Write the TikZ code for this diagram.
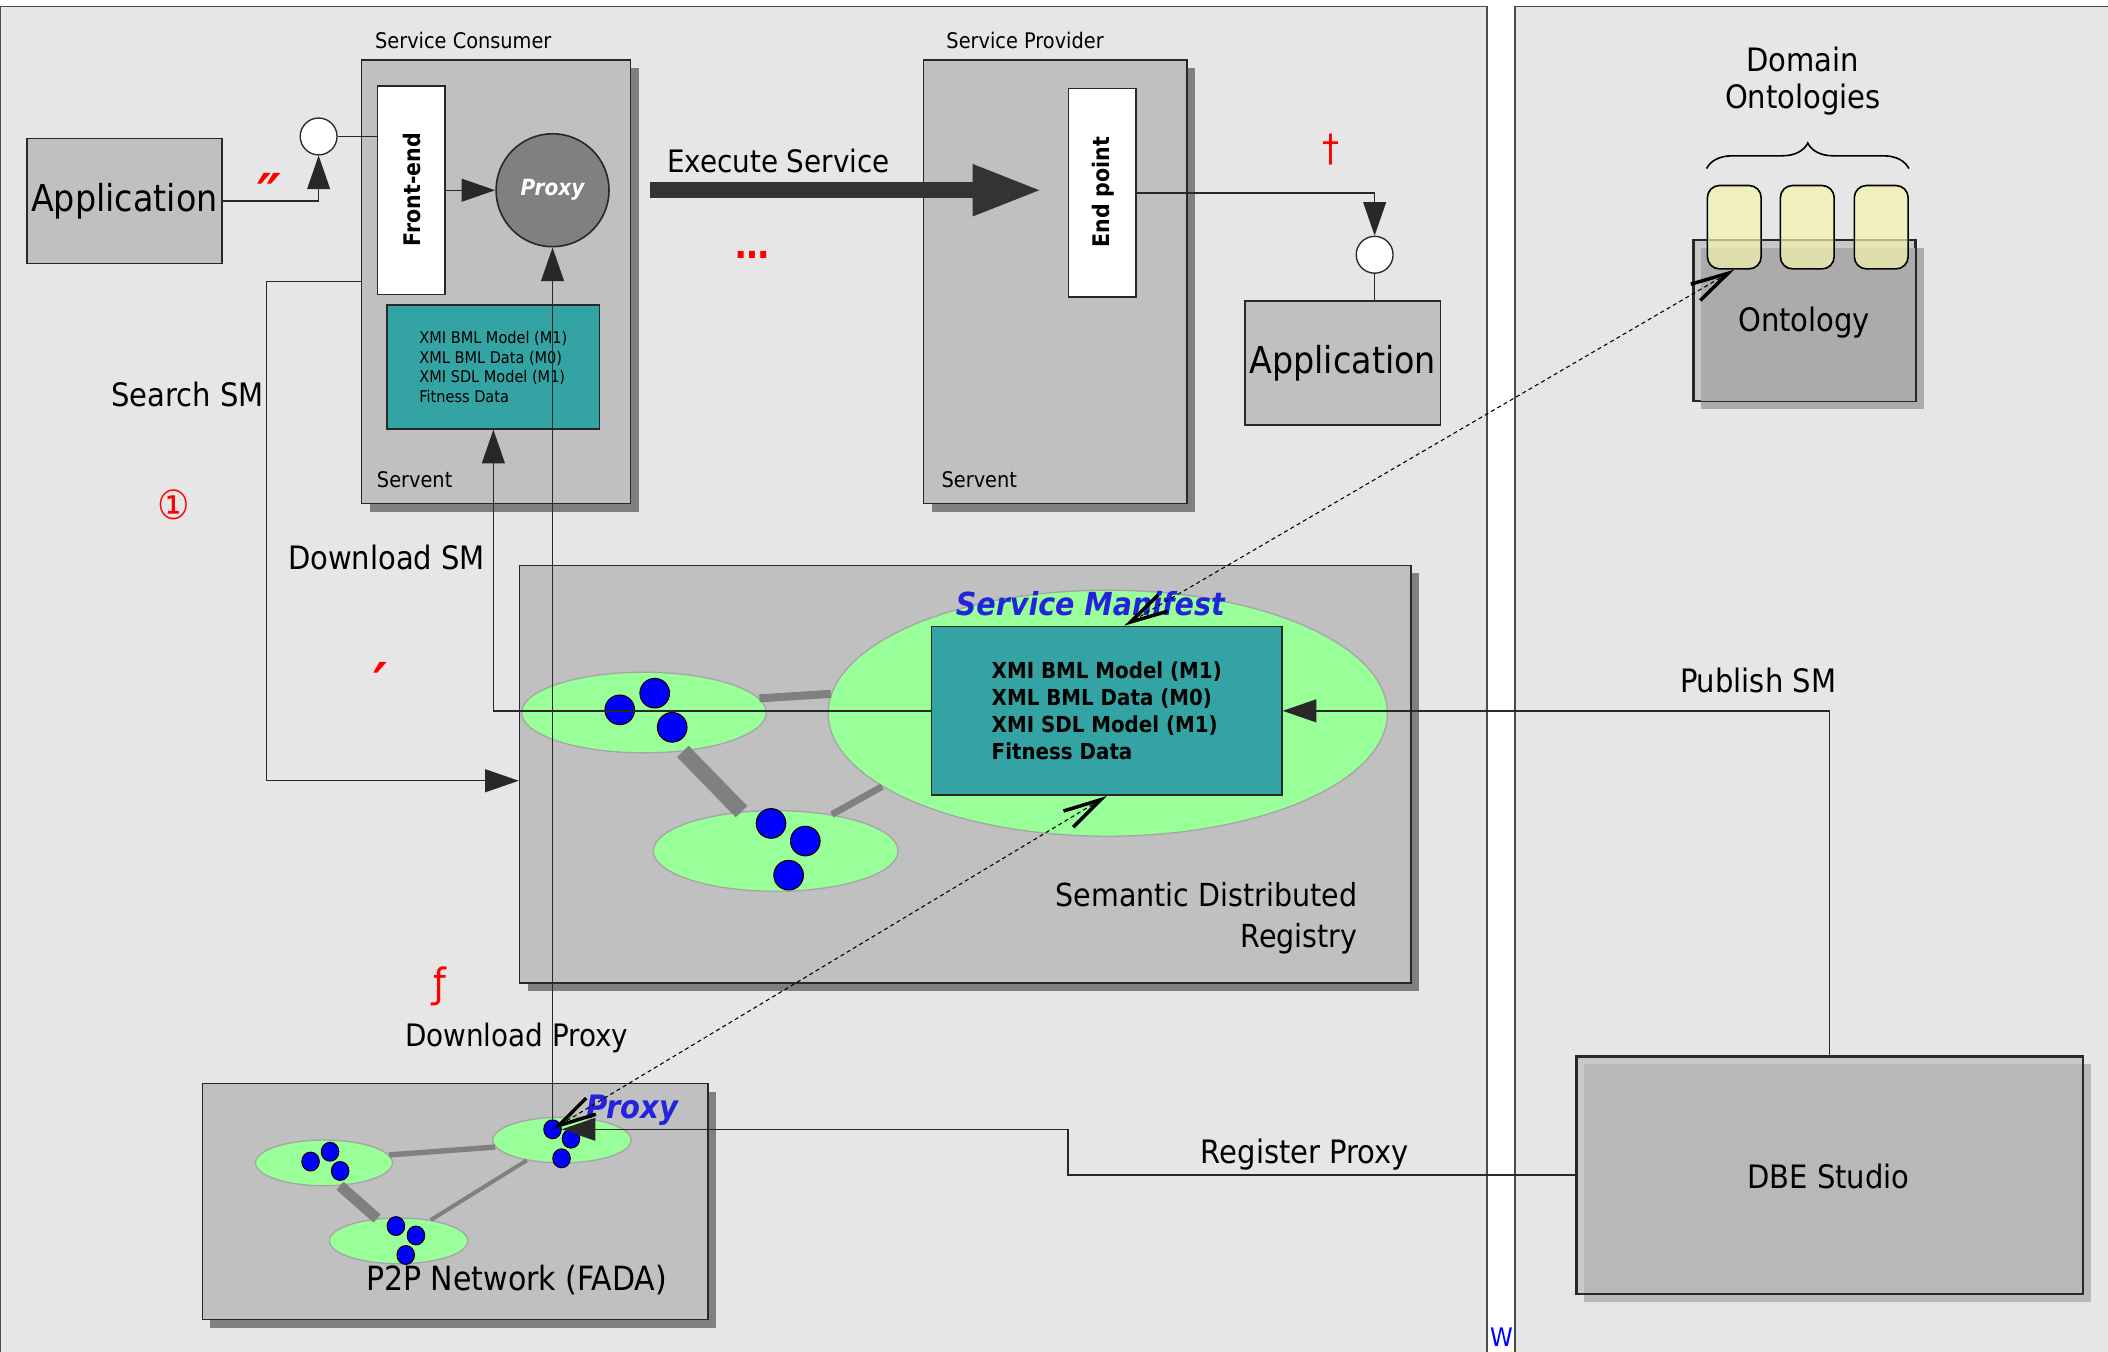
\documentclass[tikz,border=0pt]{standalone}
\usepackage{fontspec}
\setmainfont{DejaVu Sans Condensed}
\usetikzlibrary{shapes.geometric,arrows.meta,shadows,decorations.pathreplacing,calc}

\definecolor{fondo}{RGB}{230,230,230}
\definecolor{griscaja}{RGB}{192,192,192}
\definecolor{sombra}{RGB}{128,128,128}
\definecolor{turquesa}{RGB}{51,163,163}
\definecolor{verde}{RGB}{153,255,153}
\definecolor{azul}{RGB}{35,35,220}
\definecolor{amarillo}{RGB}{245,245,175}
\definecolor{grisonto}{RGB}{171,171,171}
\definecolor{grisclaro}{RGB}{200,200,200}
\definecolor{grisdbe}{RGB}{184,184,184}
\definecolor{linea}{RGB}{40,40,40}
\definecolor{oscuro}{RGB}{51,51,51}

\tikzset{
  t8/.style={inner sep=0pt,font=\fontsize{8}{8}\selectfont},
  t11/.style={inner sep=0pt,font=\fontsize{11.5}{11.5}\selectfont},
  t12/.style={inner sep=0pt,font=\fontsize{12}{12}\selectfont},
  tapp/.style={inner sep=0pt,font=\fontsize{13.8}{13.8}\selectfont},
  tvert/.style={inner sep=0pt,rotate=90,font=\bfseries\fontsize{8.5}{8.5}\selectfont},
  tazul/.style={inner sep=0pt,text=azul},
  panel/.style={draw=black!70,fill=fondo,line width=0.5pt},
  caja/.style={draw=linea,fill=griscaja,line width=0.6pt,inner sep=0pt},
  sombreada/.style={caja,drop shadow={shadow xshift=3pt,shadow yshift=-3pt,opacity=1,fill=sombra}},
  blanca/.style={draw=linea,fill=white,line width=0.5pt,inner sep=0pt,minimum width=25pt,minimum height=77.5pt},
  puerto/.style={circle,draw=linea,fill=white,minimum size=13.7pt,inner sep=0pt,line width=0.5pt},
  nube/.style={ellipse,draw=black!35,fill=verde,inner sep=0pt,line width=0.5pt},
  punto/.style={ellipse,draw=black,fill=blue,inner sep=0pt,line width=0.4pt},
  puntog/.style={punto,minimum width=11pt,minimum height=11pt},
  puntop/.style={punto,minimum width=6.5pt,minimum height=7pt},
  onto/.style={draw=black,fill=amarillo,fill opacity=0.7,rounded corners=4.5pt,
    minimum width=20pt,minimum height=31pt,line width=0.6pt},
  enlace/.style={draw=sombra},
  fina/.style={draw=linea,line width=0.5pt},
  flecha/.style={fina,-{Triangle[length=12.5pt,width=8.5pt]}},
  barba/.style={line width=0.4pt,dash pattern=on 1.5pt off 1.2pt,
    {Straight Barb[length=14pt,width=7pt,line width=1.3pt]}-{Straight Barb[length=14pt,width=7pt,line width=1.3pt]}},
  rojo/.style={text=red,inner sep=0pt},
}

\begin{document}
\begin{tikzpicture}[x=0.5pt,y=-0.5pt]
  % Marco
  \useasboundingbox (0,0) rectangle (1568,1005);
  \fill[white] (0,0) rectangle (1568,1005);

  % Paneles
  \draw[panel] (0,5) rectangle (1106,1012);
  \draw[panel] (1127,5) rectangle (1575,1012);
  \node[anchor=south west,text=blue,inner sep=0pt,font=\fontsize{9.5}{9.5}\selectfont] (resto) at (1108,1002) {W};

  % Consumidor del servicio
  \node[caja,minimum width=72.5pt,minimum height=46.5pt,tapp] (app1) at (92.5,149.5) {Application};
  \node[sombreada,minimum width=100pt,minimum height=165pt] (consumer) at (369,209.5) {};
  \node[t8] (consumerlbl) at (344.6,30) {Service Consumer};
  \node[t8,anchor=west] (servent1) at (280,356.5) {Servent};
  \node[blanca] (frontend) at (306,141.5) {};
  \node[tvert] (frontendlbl) at (306.5,141) {Front-end};
  \node[circle,draw=linea,fill=sombra,minimum size=42pt,inner sep=0pt,line width=0.6pt,
    text=white,font=\bfseries\itshape\fontsize{8.3}{8.3}\selectfont] (proxy) at (411,141.5) {Proxy};
  \node[caja,fill=turquesa,minimum width=79pt,minimum height=46pt,align=left,font=\fontsize{6}{7.2}\selectfont] (cdata) at (367,273)
    {XMI BML Model (M1)\\XML BML Data (M0)\\XMI SDL Model (M1)\\Fitness Data};
  \node[puerto] (pin) at (237,101.5) {};

  % Proveedor del servicio
  \node[sombreada,minimum width=98pt,minimum height=165pt] (provider) at (785,209.5) {};
  \node[t8] (providerlbl) at (762.5,30) {Service Provider};
  \node[t8,anchor=west] (servent2) at (700,356.5) {Servent};
  \node[blanca] (endpoint) at (820,143.5) {};
  \node[tvert] (endpointlbl) at (820.5,143) {End point};
  \node[puerto] (pout) at (1022.5,189.5) {};
  \node[caja,minimum width=72.75pt,minimum height=46pt,tapp] (app2) at (998.75,270) {Application};

  % Registro semantico distribuido
  \node[sombreada,minimum width=331.5pt,minimum height=155.25pt] (sdr) at (718,575.75) {};
  \node[nube,minimum width=208pt,minimum height=91.5pt] (big) at (824,530.5) {};
  \node[nube,minimum width=91pt,minimum height=30pt] (e1) at (479,530) {};
  \node[nube,minimum width=91pt,minimum height=30pt] (e2) at (577,633) {};
  \draw[enlace,line width=3pt] (e1.7) -- (big.176);
  \draw[enlace,line width=6pt] (e1.-45) -- (e2.131);
  \draw[enlace,line width=2.5pt] (e2.33) -- (big.198);
  \node[puntog] (e1a) at (461,528) {};
  \node[puntog] (e1b) at (487,515.6) {};
  \node[puntog] (e1c) at (500,541) {};
  \node[puntog] (e2a) at (573.5,612.5) {};
  \node[puntog] (e2b) at (599,625.6) {};
  \node[puntog] (e2c) at (586.6,651) {};
  \node[caja,fill=turquesa,minimum width=130.25pt,minimum height=62.75pt,align=left,
    font=\bfseries\fontsize{8.2}{10}\selectfont] (smbox) at (823.25,528.75)
    {XMI BML Model (M1)\\XML BML Data (M0)\\XMI SDL Model (M1)\\Fitness Data};
  \node[tazul,font=\bfseries\itshape\fontsize{11.8}{11.8}\selectfont] (smlbl) at (811,449) {Service Manifest};
  \node[inner sep=0pt,align=right,anchor=east,font=\fontsize{11.8}{15.25}\selectfont] (sdrlbl) at (1010,683)
    {Semantic Distributed\\Registry};

  % Red P2P
  \node[sombreada,minimum width=188pt,minimum height=87.75pt] (p2p) at (338.5,893.75) {};
  \node[nube,minimum width=51pt,minimum height=17pt] (p1) at (241,865) {};
  \node[nube,minimum width=51.5pt,minimum height=17pt] (p2) at (418,848) {};
  \node[nube,minimum width=51.5pt,minimum height=17pt] (p3) at (296.5,923) {};
  \draw[enlace,line width=2pt] (p1.7) -- (p2.186);
  \draw[enlace,line width=4pt] (p1.-55) -- (p3.134);
  \draw[enlace,line width=1.5pt] (p2.210) -- (p3.33);
  \node[puntop] (p1a) at (231,864) {};
  \node[puntop] (p1b) at (245.5,856.7) {};
  \node[puntop] (p1c) at (253,871) {};
  \node[puntop] (p2a) at (411,840) {};
  \node[puntop] (p2b) at (424.7,847) {};
  \node[puntop] (p2c) at (417.7,861.6) {};
  \node[puntop] (p3a) at (294.5,912) {};
  \node[puntop] (p3b) at (309.4,919) {};
  \node[puntop] (p3c) at (301.8,933.5) {};
  \node[tazul,font=\bfseries\itshape\fontsize{12}{12}\selectfont] (proxylbl) at (470.4,825.7) {Proxy};
  \node[inner sep=0pt,font=\fontsize{12.4}{12.4}\selectfont] (p2plbl) at (384.2,952) {P2P Network (FADA)};

  % DBE Studio
  \node[draw=linea,fill=grisclaro,minimum width=188pt,minimum height=88pt,inner sep=0pt,line width=0.6pt] (dbe) at (1361,874) {};
  \fill[grisdbe] ([shift={(3pt,-3pt)}]dbe.north west) rectangle ([shift={(3pt,-3pt)}]dbe.south east);
  \draw[linea,line width=0.6pt] (dbe.north west) rectangle (dbe.south east);
  \node[t12] (dbelbl) at (1360,875) {DBE Studio};

  % Ontologias
  \node[draw=linea,fill=grisclaro,minimum width=82.25pt,minimum height=59.5pt,inner sep=0pt,line width=0.6pt] (onto) at (1342.25,238.5) {};
  \fill[grisonto] ([shift={(3pt,-3pt)}]onto.north west) rectangle ([shift={(3pt,-3pt)}]onto.south east);
  \draw[linea,line width=0.6pt] (onto.north west) rectangle (onto.south east);
  \node[t12] (ontolbl) at (1342,240) {Ontology};
  \node[onto] (onto1) at (1290,169) {};
  \node[onto] (onto2) at (1344.3,169) {};
  \node[onto] (onto3) at (1399.3,169) {};
  \draw[decorate,decoration={brace,amplitude=9.5pt},line width=0.6pt]
    ([yshift=6pt]onto1.north west) -- ([yshift=6pt]onto3.north east);
  \node[inner sep=0pt,align=center,font=\fontsize{12}{13.75}\selectfont] (domlbl) at (1341,60) {Domain\\Ontologies};

  % Conexiones
  \draw[flecha] (app1.east) -| (pin.south);
  \draw[fina] (pin.east) -- (pin.east -| frontend.west);
  \draw[flecha] (frontend) -- (proxy);
  \draw[flecha] (p2a) -- (proxy);
  \draw[flecha] (smbox.west) -| (cdata.south);
  \draw[flecha] (consumer.west) -- ++(-70,0) |- ([yshift=-2.5pt]sdr.west);
  \draw[flecha] (endpoint.east) -| (pout.north);
  \draw[fina] (pout.south) -- (pout.south |- app2.north);
  \draw[flecha] (dbe.north) |- (smbox.east);
  \draw[flecha] (dbe.west) -- ++(-378,0) |- (p2a.east);
  \draw[barba] (onto1.south) -- ([xshift=6.5pt]smbox.north);
  \draw[barba] (smbox.south) -- (p2a.center);

  % Ejecutar servicio
  \draw[line width=6pt,draw=oscuro,-{Triangle[length=26pt,width=17.5pt]}]
    ($(consumer.east |- proxy)+(14,0)$) -- ($(endpoint.west |- proxy)+(-19,0)$);

  % Etiquetas
  \node[t11] (execlbl) at (579,119.6) {Execute Service};
  \node[t12] (searchlbl) at (139.5,293.5) {Search SM};
  \node[t12] (downsmlbl) at (287.5,415) {Download SM};
  \node[t11] (downproxylbl) at (384.3,772.4) {Download Proxy};
  \node[t12] (publishlbl) at (1307.7,506) {Publish SM};
  \node[t12] (registerlbl) at (970.6,859) {Register Proxy};

  % Simbolos rojos
  \node[rojo,font=\bfseries\itshape\fontsize{22}{22}\selectfont] (r1) at (200.5,145) {″};
  \node[rojo,font=\bfseries\fontsize{14}{14}\selectfont] (r2) at (559.6,190) {…};
  \node[rojo,font=\fontsize{14}{14}\selectfont] (r3) at (990,111) {†};
  \node[rojo,font=\fontsize{15}{15}\selectfont] (r4) at (129.6,375.2) {①};
  \node[rojo,font=\bfseries\itshape\fontsize{22}{22}\selectfont] (r5) at (283,509) {′};
  \node[rojo,font=\fontsize{15}{15}\selectfont] (r6) at (327.5,734) {ƒ};
\end{tikzpicture}
\end{document}
